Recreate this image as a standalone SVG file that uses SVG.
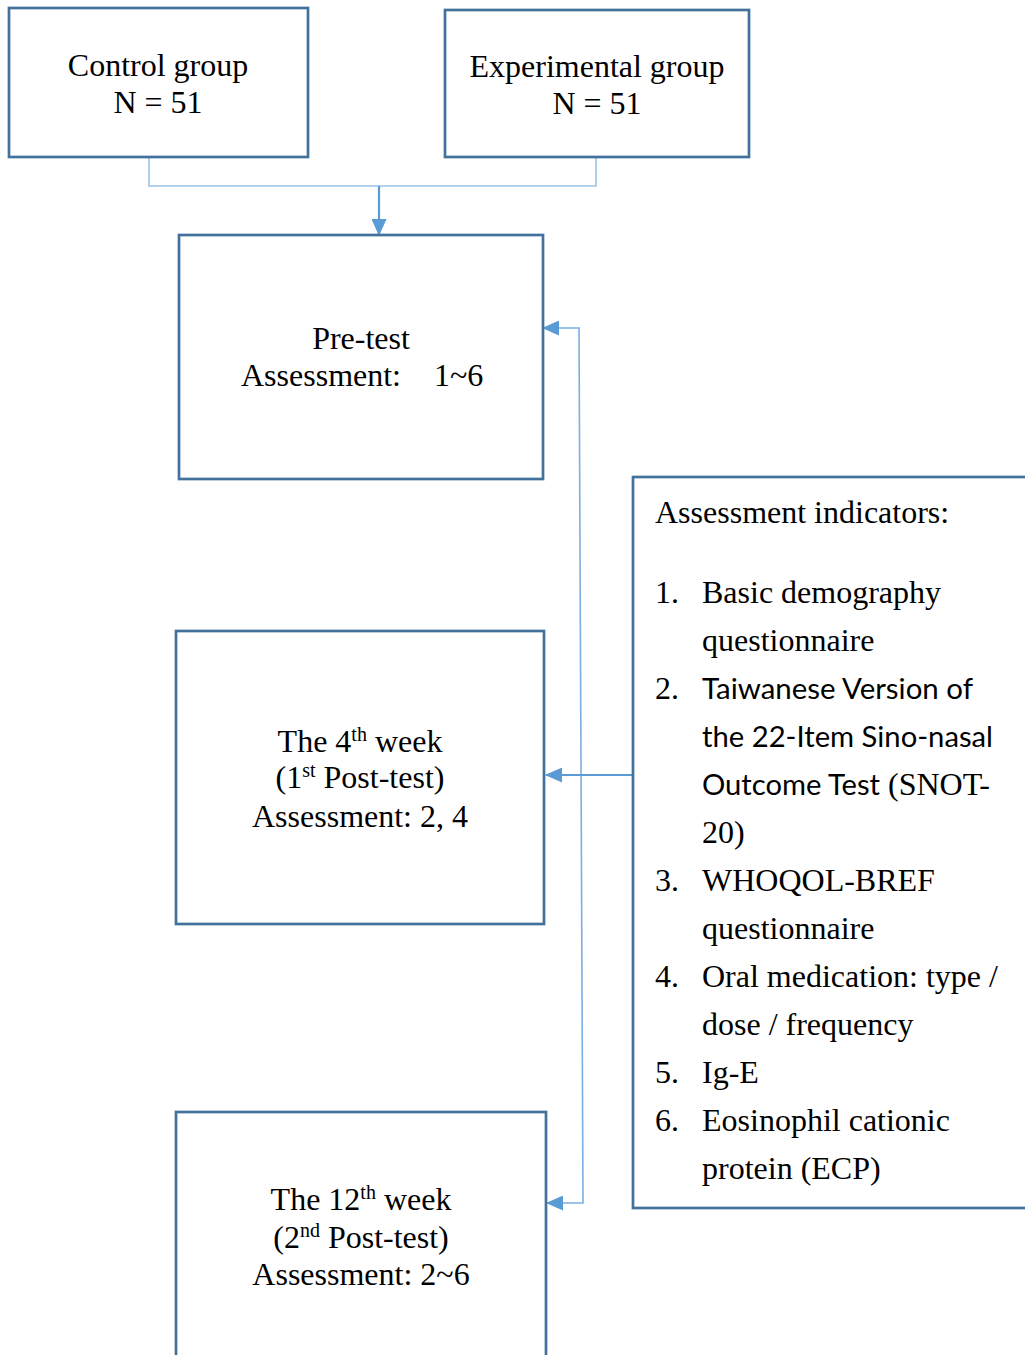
<svg xmlns="http://www.w3.org/2000/svg" width="1025" height="1355" viewBox="0 0 1025 1355">
<style>
.box{fill:#ffffff;stroke:#41719c;stroke-width:2.7}
.t{font-family:"Liberation Serif","Times New Roman",serif;font-size:32px;fill:#000}
.c{text-anchor:middle}
.cal{font-family:Lato,"Open Sans",sans-serif;font-size:29px;fill:#000}
.sup{font-size:20px}
.br{fill:none;stroke:#9dc3e6;stroke-width:1.6}
.ln{fill:none;stroke:#7eaedf;stroke-width:1.6}
.ar{fill:none;stroke:#5b9bd5;stroke-width:2.2}
</style>
<defs>
<marker id="ah" markerUnits="userSpaceOnUse" markerWidth="17" markerHeight="15" refX="16" refY="7.5" orient="auto-start-reverse" viewBox="0 0 17 15">
<path d="M0,0 L17,7.5 L0,15 Z" fill="#5b9bd5"/>
</marker>
</defs>
<rect width="1025" height="1355" fill="#ffffff"/>
<g id="connectors">
<polyline class="br" points="149,158 149,186 596,186 596,158"/>
<line class="ar" x1="379" y1="186" x2="379" y2="235" marker-end="url(#ah)"/>
<path class="ln" d="M547,1203 L583,1203 L579,328 L543,328" marker-start="url(#ah)" marker-end="url(#ah)"/>
<line class="ar" x1="633" y1="775" x2="546" y2="775" marker-end="url(#ah)"/>
</g>
<g id="control">
<rect class="box" x="9" y="8" width="299" height="149"/>
<text class="t c" x="158" y="76">Control group</text>
<text class="t c" x="158" y="113">N = 51</text>
</g>
<g id="experimental">
<rect class="box" x="445" y="10" width="304" height="147"/>
<text class="t c" x="597" y="77">Experimental group</text>
<text class="t c" x="597" y="114">N = 51</text>
</g>
<g id="pretest">
<rect class="box" x="179" y="235" width="364" height="244"/>
<text class="t c" x="361" y="349">Pre-test</text>
<text class="t" y="386"><tspan x="241">Assessment:</tspan><tspan x="434">1~6</tspan></text>
</g>
<g id="week4">
<rect class="box" x="176" y="631" width="368" height="293"/>
<text class="t c" x="360" y="752">The 4<tspan class="sup" dy="-11">th</tspan><tspan dy="11"> week</tspan></text>
<text class="t c" x="360" y="788">(1<tspan class="sup" dy="-11">st</tspan><tspan dy="11"> Post-test)</tspan></text>
<text class="t c" x="360" y="827">Assessment: 2, 4</text>
</g>
<g id="week12">
<rect class="box" x="176" y="1112" width="370" height="260"/>
<text class="t c" x="361" y="1210">The 12<tspan class="sup" dy="-11">th</tspan><tspan dy="11"> week</tspan></text>
<text class="t c" x="361" y="1248">(2<tspan class="sup" dy="-11">nd</tspan><tspan dy="11"> Post-test)</tspan></text>
<text class="t c" x="361" y="1285">Assessment: 2~6</text>
</g>
<g id="indicators">
<rect class="box" x="633" y="477" width="400" height="731"/>
<text class="t" x="655" y="523">Assessment indicators:</text>
<text class="t" x="655" y="603">1.</text>
<text class="t" x="702" y="603">Basic demography</text>
<text class="t" x="702" y="651">questionnaire</text>
<text class="t" x="655" y="699">2.</text>
<text class="cal" x="702" y="699" textLength="271" lengthAdjust="spacingAndGlyphs">Taiwanese Version of</text>
<text class="cal" x="702" y="747" textLength="291" lengthAdjust="spacingAndGlyphs">the 22-Item Sino-nasal</text>
<text class="cal" x="702" y="795" textLength="178" lengthAdjust="spacingAndGlyphs">Outcome Test</text>
<text class="t" x="888" y="795">(SNOT-</text>
<text class="t" x="702" y="843">20)</text>
<text class="t" x="655" y="891">3.</text>
<text class="t" x="702" y="891">WHOQOL-BREF</text>
<text class="t" x="702" y="939">questionnaire</text>
<text class="t" x="655" y="987">4.</text>
<text class="t" x="702" y="987">Oral medication: type /</text>
<text class="t" x="702" y="1035">dose / frequency</text>
<text class="t" x="655" y="1083">5.</text>
<text class="t" x="702" y="1083">Ig-E</text>
<text class="t" x="655" y="1131">6.</text>
<text class="t" x="702" y="1131">Eosinophil cationic</text>
<text class="t" x="702" y="1179">protein (ECP)</text>
</g>
</svg>
